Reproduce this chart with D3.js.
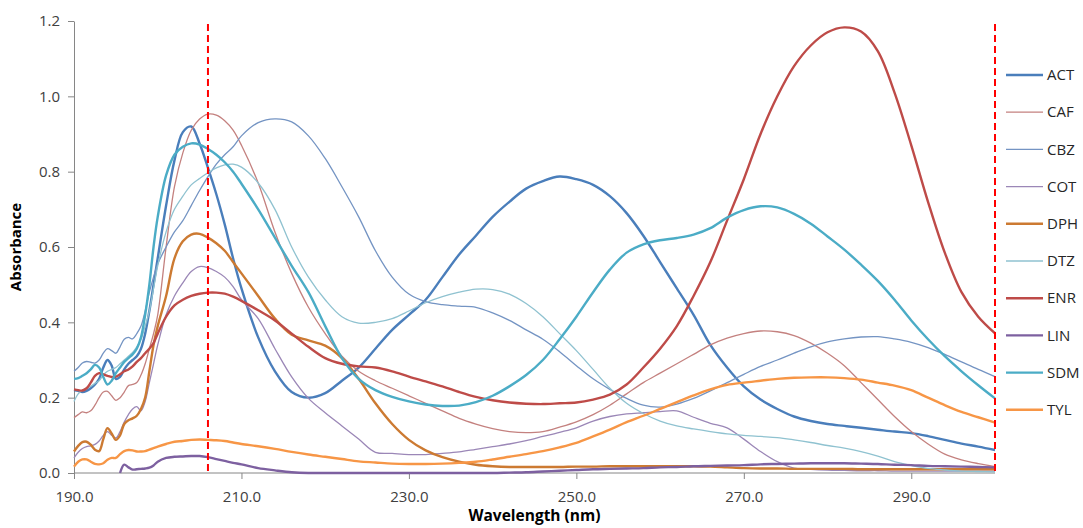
<!DOCTYPE html>
<html>
<head>
<meta charset="utf-8">
<script src="https://cdn.jsdelivr.net/npm/d3@7/dist/d3.min.js"></script>
<style>
  html, body { margin: 0; padding: 0; background: #ffffff; }
  svg { display: block; }
  text { font-family: "Open Sans", "Liberation Sans", sans-serif; }
</style>
</head>
<body>
<svg id="chart" width="1083" height="528"></svg>
<script>
// Wavelength grid (nm): fine steps in the noisy far-UV region, coarser afterwards
const wavelengths = [
  190, 190.5, 191, 191.5, 192, 192.5, 193, 193.5, 194, 194.5, 195, 195.5, 196, 196.5, 197, 197.5, 198, 198.5, 199, 199.5, 200,
  201, 202, 203, 204, 205, 206, 207, 208, 209, 210,
  212, 214, 216, 218, 220, 222, 224, 226, 228, 230, 232, 234, 236, 238, 240, 242, 244, 246, 248, 250,
  252, 254, 256, 258, 260, 262, 264, 266, 268, 270, 272, 274, 276, 278, 280, 282, 284, 286, 288, 290,
  292, 294, 296, 298, 300
];

// Absorbance spectra, one value per wavelength above
const ACT = [
  0.220, 0.218, 0.215, 0.218, 0.225, 0.235, 0.250, 0.280, 0.300, 0.285, 0.250, 0.255, 0.275, 0.290, 0.300, 0.310, 0.330, 0.370, 0.430, 0.500, 0.570,
  0.710, 0.830, 0.905, 0.920, 0.875, 0.810, 0.740, 0.660, 0.570, 0.490,
  0.360, 0.270, 0.215, 0.200, 0.212, 0.245, 0.280, 0.330, 0.380, 0.420, 0.460, 0.520, 0.580, 0.630, 0.680, 0.720, 0.755, 0.775, 0.787, 0.780,
  0.765, 0.735, 0.690, 0.630, 0.560, 0.490, 0.420, 0.340, 0.280, 0.230, 0.195, 0.170, 0.150, 0.138, 0.130, 0.125, 0.120, 0.115, 0.110, 0.106,
  0.098, 0.088, 0.078, 0.070, 0.061
];
const CAF = [
  0.147, 0.155, 0.162, 0.160, 0.165, 0.180, 0.200, 0.215, 0.217, 0.205, 0.193, 0.200, 0.215, 0.232, 0.235, 0.240, 0.260, 0.290, 0.330, 0.370, 0.420,
  0.600, 0.760, 0.850, 0.910, 0.940, 0.953, 0.950, 0.935, 0.910, 0.870,
  0.770, 0.640, 0.530, 0.440, 0.370, 0.310, 0.270, 0.245, 0.225, 0.205, 0.185, 0.165, 0.145, 0.130, 0.118, 0.110, 0.107, 0.110, 0.122, 0.136,
  0.155, 0.180, 0.210, 0.240, 0.265, 0.290, 0.315, 0.340, 0.358, 0.370, 0.377, 0.375, 0.365, 0.345, 0.318, 0.285, 0.240, 0.195, 0.150, 0.110,
  0.077, 0.050, 0.035, 0.025, 0.017
];
const CBZ = [
  0.270, 0.280, 0.292, 0.296, 0.294, 0.292, 0.300, 0.318, 0.330, 0.325, 0.318, 0.335, 0.355, 0.360, 0.356, 0.370, 0.390, 0.430, 0.480, 0.520, 0.555,
  0.600, 0.640, 0.670, 0.710, 0.750, 0.787, 0.820, 0.845, 0.866, 0.895,
  0.930, 0.940, 0.932, 0.895, 0.835, 0.760, 0.680, 0.590, 0.520, 0.475, 0.455, 0.447, 0.443, 0.440, 0.425, 0.405, 0.380, 0.355, 0.322, 0.285,
  0.250, 0.222, 0.198, 0.180, 0.175, 0.183, 0.198, 0.218, 0.240, 0.262, 0.283, 0.300, 0.318, 0.335, 0.348, 0.356, 0.361, 0.362, 0.356, 0.347,
  0.333, 0.315, 0.295, 0.275, 0.256
];
const COT = [
  0.040, 0.055, 0.065, 0.070, 0.072, 0.076, 0.085, 0.100, 0.110, 0.100, 0.093, 0.110, 0.135, 0.155, 0.170, 0.176, 0.165, 0.190, 0.240, 0.290, 0.340,
  0.420, 0.470, 0.505, 0.535, 0.548, 0.545, 0.535, 0.520, 0.495, 0.460,
  0.410, 0.330, 0.255, 0.198, 0.160, 0.125, 0.090, 0.055, 0.052, 0.049, 0.049, 0.052, 0.056, 0.063, 0.070, 0.077, 0.086, 0.097, 0.108, 0.120,
  0.138, 0.150, 0.157, 0.160, 0.163, 0.165, 0.148, 0.132, 0.120, 0.090, 0.057, 0.030, 0.013, 0.010, 0.008, 0.007, 0.006, 0.006, 0.005, 0.005,
  0.005, 0.005, 0.005, 0.005, 0.005
];
const DPH = [
  0.057, 0.072, 0.082, 0.083, 0.075, 0.062, 0.058, 0.090, 0.119, 0.105, 0.088, 0.100, 0.130, 0.140, 0.145, 0.152, 0.170, 0.200, 0.270, 0.340, 0.390,
  0.470, 0.570, 0.615, 0.633, 0.635, 0.625, 0.610, 0.590, 0.560, 0.530,
  0.470, 0.410, 0.367, 0.352, 0.338, 0.305, 0.250, 0.185, 0.130, 0.088, 0.060, 0.042, 0.030, 0.022, 0.018, 0.016, 0.016, 0.016, 0.016, 0.017,
  0.017, 0.018, 0.018, 0.018, 0.018, 0.018, 0.018, 0.017, 0.015, 0.013, 0.012, 0.012, 0.011, 0.011, 0.011, 0.011, 0.010, 0.010, 0.010, 0.010,
  0.010, 0.010, 0.010, 0.010, 0.010
];
const DTZ = [
  0.190, 0.210, 0.220, 0.225, 0.230, 0.238, 0.245, 0.260, 0.270, 0.275, 0.280, 0.290, 0.300, 0.310, 0.320, 0.335, 0.355, 0.390, 0.430, 0.490, 0.550,
  0.640, 0.700, 0.735, 0.765, 0.782, 0.797, 0.810, 0.818, 0.820, 0.812,
  0.770, 0.700, 0.600, 0.520, 0.460, 0.415, 0.398, 0.400, 0.410, 0.430, 0.452, 0.468, 0.480, 0.488, 0.487, 0.475, 0.450, 0.415, 0.370, 0.325,
  0.275, 0.225, 0.185, 0.158, 0.138, 0.125, 0.117, 0.110, 0.104, 0.100, 0.097, 0.094, 0.088, 0.081, 0.073, 0.066, 0.057, 0.045, 0.030, 0.020,
  0.012, 0.008, 0.005, 0.004, 0.003
];
const ENR = [
  0.222, 0.220, 0.219, 0.225, 0.240, 0.258, 0.265, 0.262, 0.258, 0.255, 0.256, 0.262, 0.270, 0.275, 0.283, 0.295, 0.305, 0.318, 0.330, 0.345, 0.370,
  0.415, 0.445, 0.460, 0.470, 0.476, 0.479, 0.479, 0.476, 0.468, 0.457,
  0.432, 0.405, 0.370, 0.335, 0.305, 0.290, 0.283, 0.280, 0.270, 0.256, 0.243, 0.230, 0.215, 0.202, 0.193, 0.187, 0.184, 0.183, 0.185, 0.187,
  0.195, 0.208, 0.235, 0.280, 0.330, 0.390, 0.470, 0.560, 0.670, 0.780, 0.900, 1.000, 1.080, 1.135, 1.170, 1.183, 1.172, 1.120, 1.010, 0.870,
  0.720, 0.585, 0.480, 0.415, 0.371
];
// LIN is only recorded from 195.5 nm onwards
const LIN = [
  null, null, null, null, null, null, null, null, null, null, null, 0.000, 0.022, 0.015, 0.009, 0.010, 0.011, 0.012, 0.014, 0.020, 0.030,
  0.040, 0.043, 0.044, 0.045, 0.045, 0.042, 0.037, 0.032, 0.027, 0.023,
  0.013, 0.007, 0.002, 0.000, 0.000, 0.000, 0.000, 0.000, 0.000, 0.000, 0.000, 0.000, 0.000, 0.000, 0.000, 0.001, 0.002, 0.004, 0.006, 0.008,
  0.010, 0.011, 0.012, 0.013, 0.015, 0.016, 0.018, 0.019, 0.020, 0.021, 0.023, 0.024, 0.025, 0.026, 0.026, 0.026, 0.025, 0.024, 0.022, 0.021,
  0.019, 0.018, 0.017, 0.016, 0.015
];
const SDM = [
  0.250, 0.252, 0.258, 0.265, 0.275, 0.287, 0.280, 0.255, 0.235, 0.245, 0.265, 0.280, 0.295, 0.305, 0.315, 0.330, 0.360, 0.420, 0.500, 0.600, 0.680,
  0.790, 0.845, 0.866, 0.875, 0.872, 0.860, 0.845, 0.825, 0.800, 0.768,
  0.700, 0.625, 0.550, 0.480, 0.390, 0.305, 0.250, 0.220, 0.202, 0.190, 0.182, 0.178, 0.179, 0.188, 0.205, 0.230, 0.260, 0.300, 0.355, 0.415,
  0.480, 0.540, 0.585, 0.607, 0.618, 0.624, 0.633, 0.650, 0.678, 0.698, 0.708, 0.705, 0.688, 0.662, 0.628, 0.593, 0.553, 0.510, 0.460, 0.405,
  0.355, 0.310, 0.270, 0.233, 0.198
];
const TYL = [
  0.017, 0.030, 0.036, 0.036, 0.030, 0.024, 0.023, 0.026, 0.035, 0.040, 0.040, 0.050, 0.058, 0.061, 0.060, 0.057, 0.057, 0.058, 0.062, 0.066, 0.070,
  0.077, 0.083, 0.085, 0.088, 0.089, 0.088, 0.087, 0.085, 0.081, 0.077,
  0.071, 0.064, 0.056, 0.049, 0.043, 0.037, 0.031, 0.028, 0.025, 0.024, 0.024, 0.025, 0.027, 0.030, 0.036, 0.043, 0.050, 0.058, 0.068, 0.080,
  0.097, 0.115, 0.135, 0.152, 0.170, 0.188, 0.206, 0.222, 0.234, 0.240, 0.245, 0.250, 0.253, 0.254, 0.254, 0.252, 0.248, 0.240, 0.232, 0.220,
  0.200, 0.180, 0.162, 0.148, 0.134
];

const seriesNames = ["ACT", "CAF", "CBZ", "COT", "DPH", "DTZ", "ENR", "LIN", "SDM", "TYL"];
const seriesValues = [ACT, CAF, CBZ, COT, DPH, DTZ, ENR, LIN, SDM, TYL];

// Tick labels and marker lines
const xTicks = [190, 210, 230, 250, 270, 290];
const yTicks = [0, 0.2, 0.4, 0.6, 0.8, 1.0, 1.2];
const markerWavelengths = [206, 300];

// Presentation
const colors = {
  ACT: "#4a7ebb", CAF: "#c4817f", CBZ: "#7494c3", COT: "#9b87b7", DPH: "#cc7a32",
  DTZ: "#8fc2d0", ENR: "#be4b48", LIN: "#7d60a0", SDM: "#4bacc6", TYL: "#f79646"
};
const widths = {
  ACT: 2.4, CAF: 1.3, CBZ: 1.3, COT: 1.3, DPH: 2.4,
  DTZ: 1.3, ENR: 2.4, LIN: 2.4, SDM: 2.4, TYL: 2.4
};

const svg = d3.select("#chart");
const margin = { left: 74, right: 1083 - 995, top: 21, bottom: 528 - 473 };
const W = 1083, H = 528;

const x = d3.scaleLinear().domain([190, 300]).range([margin.left, W - margin.right]);
const y = d3.scaleLinear().domain([0, 1.2]).range([H - margin.bottom, margin.top]);

const axisColor = "#868686";
const textColor = "#404040";

// X axis
const xAxis = svg.append("g")
  .attr("transform", `translate(0,${y(0)})`)
  .call(d3.axisBottom(x).tickValues(xTicks).tickFormat(d3.format(".1f")).tickSize(6).tickSizeOuter(0));
xAxis.select(".domain").attr("stroke", axisColor).attr("d", `M${x(190)},0H${x(300)}`);
xAxis.selectAll(".tick line").attr("stroke", axisColor);
xAxis.selectAll(".tick text").attr("fill", textColor).attr("font-size", 15).attr("dy", "1.3em");

// Y axis
const yAxis = svg.append("g")
  .attr("transform", `translate(${x(190)},0)`)
  .call(d3.axisLeft(y).tickValues(yTicks).tickFormat(d3.format(".1f")).tickSize(6).tickSizeOuter(0));
yAxis.select(".domain").attr("stroke", axisColor);
yAxis.selectAll(".tick line").attr("stroke", axisColor);
yAxis.selectAll(".tick text").attr("fill", textColor).attr("font-size", 15).attr("dx", "-5");

// Axis titles
svg.append("text")
  .attr("x", (x(190) + x(300)) / 2)
  .attr("y", 521)
  .attr("text-anchor", "middle")
  .attr("font-size", 15.5)
  .attr("font-weight", "bold")
  .attr("fill", "#000")
  .text("Wavelength (nm)");

svg.append("text")
  .attr("transform", `translate(21,${(y(0) + y(1.2)) / 2}) rotate(-90)`)
  .attr("text-anchor", "middle")
  .attr("font-size", 15)
  .attr("font-weight", "bold")
  .attr("fill", "#000")
  .text("Absorbance");

// Spectra
const line = d3.line()
  .defined(d => d[1] !== null)
  .x(d => x(d[0]))
  .y(d => y(Math.max(0, d[1])))
  .curve(d3.curveCatmullRom.alpha(0.5));

const plot = svg.append("g");
seriesNames.forEach((name, i) => {
  const pts = wavelengths.map((w, j) => [w, seriesValues[i][j]]);
  plot.append("path")
    .datum(pts)
    .attr("fill", "none")
    .attr("stroke", colors[name])
    .attr("stroke-width", widths[name])
    .attr("stroke-linejoin", "round")
    .attr("d", line);
});

// Vertical dashed markers
svg.append("g").selectAll("line")
  .data(markerWavelengths)
  .join("line")
  .attr("x1", d => x(d)).attr("x2", d => x(d))
  .attr("y1", 24).attr("y2", y(0))
  .attr("stroke", "#ff0000")
  .attr("stroke-width", 2)
  .attr("stroke-dasharray", "7,4");

// Legend
const legend = svg.append("g");
seriesNames.forEach((name, i) => {
  const ly = 75 + i * 37.2;
  legend.append("line")
    .attr("x1", 1006).attr("x2", 1043)
    .attr("y1", ly).attr("y2", ly)
    .attr("stroke", colors[name])
    .attr("stroke-width", widths[name]);
  legend.append("text")
    .attr("x", 1047).attr("y", ly)
    .attr("dy", "0.35em")
    .attr("font-size", 15)
    .attr("fill", "#262626")
    .text(name);
});
</script>
</body>
</html>
